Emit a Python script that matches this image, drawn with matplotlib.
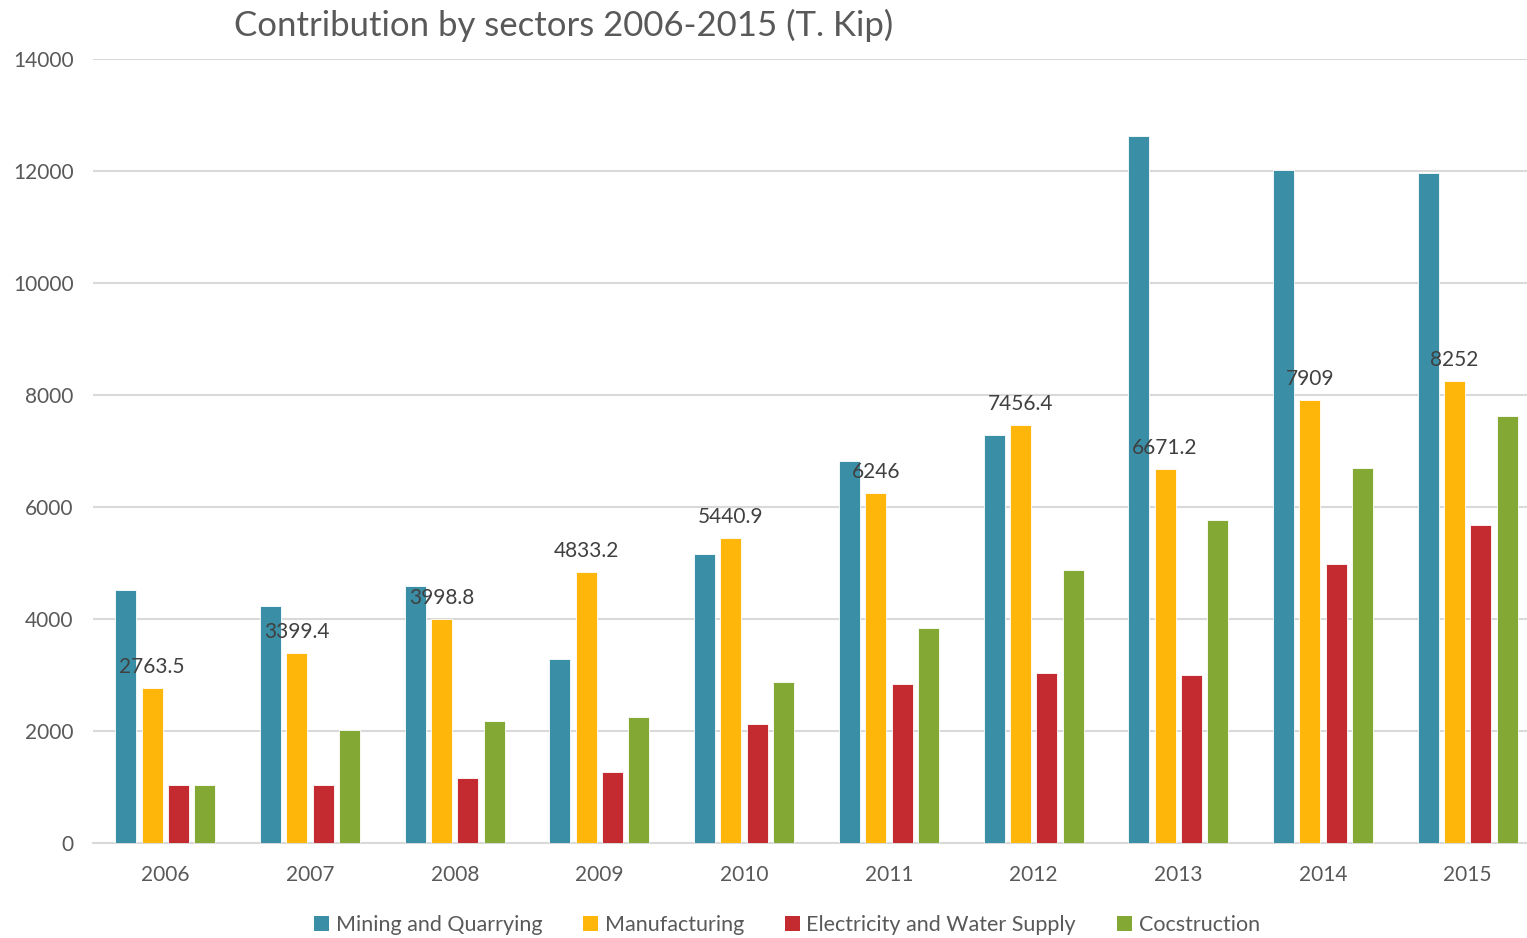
"""Grouped bars: contribution by sectors, 2006-2015."""
import matplotlib.pyplot as plt
import numpy as np
from matplotlib.patches import Patch

plt.rcParams['font.family'] = ['Lato', 'DejaVu Sans']

years = ['2006', '2007', '2008', '2009', '2010',
         '2011', '2012', '2013', '2014', '2015']
mining = [4520, 4230, 4590, 3290, 5160, 6820, 7290, 12620, 12010, 11960]
manufacturing = [2763.5, 3399.4, 3998.8, 4833.2, 5440.9,
                 6246, 7456.4, 6671.2, 7909, 8252]
electricity = [1040, 1040, 1160, 1270, 2130, 2840, 3040, 3000, 4980, 5680]
construction = [1040, 2020, 2180, 2250, 2880, 3840, 4880, 5770, 6700, 7630]
manufacturing_labels = ['2763.5', '3399.4', '3998.8', '4833.2', '5440.9',
                        '6246', '7456.4', '6671.2', '7909', '8252']

series = [
    ('Mining and Quarrying', mining, '#3A8FA6'),
    ('Manufacturing', manufacturing, '#FFB60A'),
    ('Electricity and Water Supply', electricity, '#C42B31'),
    ('Cocstruction', construction, '#84A834'),
]

W, H = 1527, 938
fig = plt.figure(figsize=(W / 100, H / 100), dpi=100)
ax = fig.add_axes([93 / W, (H - 843) / H, (1540 - 93) / W, 784 / H])

x = np.arange(len(years))
step = 0.182
width = 0.145
bars = []
for i, (name, vals, color) in enumerate(series):
    b = ax.bar(x + (i - 1.5) * step, vals, width, color=color,
               edgecolor='white', linewidth=0.6, zorder=3, label=name)
    bars.append(b)

# value labels on the manufacturing bars
for rect, lab in zip(bars[1], manufacturing_labels):
    ax.annotate(lab, (rect.get_x() + rect.get_width() / 2, rect.get_height()),
                xytext=(0, 8), textcoords='offset points', ha='center',
                va='bottom', fontsize=15, color='#404040', zorder=4)

ax.set_xlim(-0.5, len(years) - 0.5)
ax.set_ylim(0, 14000)
ax.set_yticks(np.arange(0, 14001, 2000))
ax.set_xticks(x)
ax.set_xticklabels(years)
ax.tick_params(axis='both', length=0, labelsize=15, colors='#595959')
ax.tick_params(axis='x', pad=15.5)
ax.tick_params(axis='y', pad=14)
ax.yaxis.grid(True, color='#D9D9D9', linewidth=1.5, zorder=0)
for side in ['top', 'right', 'left']:
    ax.spines[side].set_visible(False)
ax.spines['bottom'].set_color('#D9D9D9')
ax.spines['bottom'].set_linewidth(1.5)

fig.text(564 / W, 1 - 25 / H, 'Contribution by sectors 2006-2015 (T. Kip)',
         ha='center', va='center', fontsize=25, color='#595959')

handles = [Patch(facecolor=c, label=n) for n, _, c in series]
fig.legend(handles=handles, loc='center', bbox_to_anchor=(787 / W, 1 - 925 / H),
           ncol=4, frameon=False, fontsize=15.5, handlelength=0.7,
           handleheight=0.7, handletextpad=0.3, columnspacing=1.9,
           labelcolor='#595959')

fig.savefig('out.png', dpi=100)
